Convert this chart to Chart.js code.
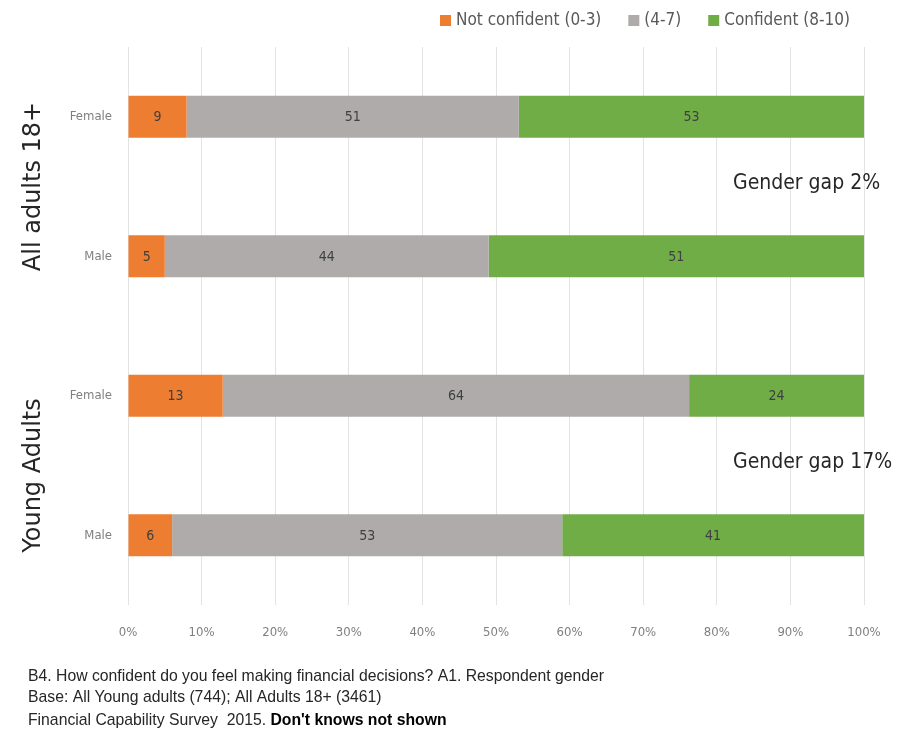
<!DOCTYPE html>
<html>
<head>
<meta charset="utf-8">
<script src="https://cdn.jsdelivr.net/npm/chart.js@4.4.1/dist/chart.umd.min.js"></script>
<style>
  html, body { margin: 0; padding: 0; background: #fff; }
  #wrap { width: 912px; height: 731px; position: relative; }
</style>
</head>
<body>
<div id="wrap"><canvas id="chart"></canvas></div>
<script>
// data
const categories = ['Female', 'Male', 'Female', 'Male'];
const notConfident = [9, 5, 13, 6];
const midConfident = [51, 44, 64, 53];
const confident = [53, 51, 24, 41];
const seriesNames = ['Not confident (0-3)', '(4-7)', 'Confident (8-10)'];
const seriesColors = ['#ED7D31', '#AFABAB', '#70AD47'];
const groupNames = ['All adults 18+', 'Young Adults'];
const gapLabels = ['Gender gap 2%', 'Gender gap 17%'];
const footerLines = [
  'B4. How confident do you feel making financial decisions? A1. Respondent gender',
  'Base: All Young adults (744); All Adults 18+ (3461)',
  'Financial Capability Survey  2015. '
];
const footerBold = "Don't knows not shown";

const condensed = "'DejaVu Sans Condensed', sans-serif";
const sans = "'Liberation Sans', Arial, sans-serif";

// each bar is shown as a share of its own total (100% stacked)
const totals = categories.map((c, i) => notConfident[i] + midConfident[i] + confident[i]);
const share = arr => arr.map((v, i) => v / totals[i] * 100);
const rawValues = [notConfident, midConfident, confident];

const valueLabels = {
  id: 'valueLabels',
  afterDatasetsDraw(chart) {
    const ctx = chart.ctx;
    ctx.save();
    ctx.font = '14px ' + condensed;
    ctx.fillStyle = '#404040';
    ctx.textAlign = 'center';
    ctx.textBaseline = 'middle';
    chart.data.datasets.forEach((ds, di) => {
      chart.getDatasetMeta(di).data.forEach((bar, i) => {
        const cx = (bar.x + bar.base) / 2;
        ctx.fillText(String(rawValues[di][i]), cx, bar.y + 1);
      });
    });
    ctx.restore();
  }
};

const extras = {
  id: 'extras',
  afterDraw(chart) {
    const ctx = chart.ctx;
    const y = chart.scales.y;
    const x = chart.scales.x;
    ctx.save();

    // legend, top right
    ctx.font = '17px ' + condensed;
    ctx.textBaseline = 'middle';
    ctx.textAlign = 'left';
    let lx = 440;
    seriesNames.forEach((name, k) => {
      ctx.fillStyle = seriesColors[k];
      ctx.fillRect(lx, 15, 11, 11);
      ctx.fillStyle = '#595959';
      ctx.fillText(name, lx + 16, 21);
      lx += 16 + ctx.measureText(name).width + 27;
    });

    // group labels on the left
    ctx.font = '24px ' + "'DejaVu Sans', sans-serif";
    ctx.fillStyle = '#262626';
    ctx.textAlign = 'center';
    const groupShift = [0, 10];
    groupNames.forEach((g, k) => {
      const cy = y.getPixelForValue(k * 2 + 0.5) + groupShift[k];
      ctx.save();
      ctx.translate(34, cy);
      ctx.rotate(-Math.PI / 2);
      ctx.fillText(g, 0, 0);
      ctx.restore();
    });

    // gender gap notes
    ctx.font = '21px ' + condensed;
    ctx.textAlign = 'left';
    gapLabels.forEach((g, k) => {
      const cy = y.getPixelForValue(k * 2 + 0.5) - 3;
      ctx.fillText(g, x.getPixelForValue(82.2), cy);
    });

    // footer, narrowed Arial-like text
    ctx.font = '17px ' + sans;
    ctx.textBaseline = 'alphabetic';
    const squeeze = 576 / ctx.measureText(footerLines[0]).width;
    const ys = [681, 702, 725];
    ctx.save();
    ctx.translate(28, 0);
    ctx.scale(squeeze, 1);
    ctx.fillStyle = '#262626';
    footerLines.forEach((t, k) => ctx.fillText(t, 0, ys[k]));
    const w = ctx.measureText(footerLines[2]).width;
    ctx.font = 'bold 17px ' + sans;
    ctx.fillStyle = '#000';
    ctx.fillText(footerBold, w, ys[2]);
    ctx.restore();

    ctx.restore();
  }
};

new Chart(document.getElementById('chart'), {
  type: 'bar',
  data: {
    labels: categories,
    datasets: [
      { label: seriesNames[0], data: share(notConfident), backgroundColor: seriesColors[0] },
      { label: seriesNames[1], data: share(midConfident), backgroundColor: seriesColors[1] },
      { label: seriesNames[2], data: share(confident), backgroundColor: seriesColors[2] }
    ]
  },
  options: {
    indexAxis: 'y',
    responsive: true,
    maintainAspectRatio: false,
    animation: false,
    layout: { padding: { left: 0, right: 48, top: 47, bottom: 82 } },
    datasets: { bar: { categoryPercentage: 1, barPercentage: 0.3, borderWidth: 0 } },
    scales: {
      x: {
        stacked: true,
        min: 0,
        max: 100,
        ticks: {
          stepSize: 10,
          padding: 20,
          color: '#7f7f7f',
          font: { family: condensed, size: 13 },
          callback: v => v + '%'
        },
        grid: { color: '#e3e3e3', drawTicks: false },
        border: { display: false },
        afterFit: s => { s.height = 44; }
      },
      y: {
        stacked: true,
        ticks: {
          padding: 8,
          color: '#7f7f7f',
          font: { family: condensed, size: 13 }
        },
        grid: { display: false },
        border: { display: false },
        afterFit: s => { s.width = 128; }
      }
    },
    plugins: {
      legend: { display: false },
      tooltip: { enabled: false }
    }
  },
  plugins: [valueLabels, extras]
});
</script>
</body>
</html>
